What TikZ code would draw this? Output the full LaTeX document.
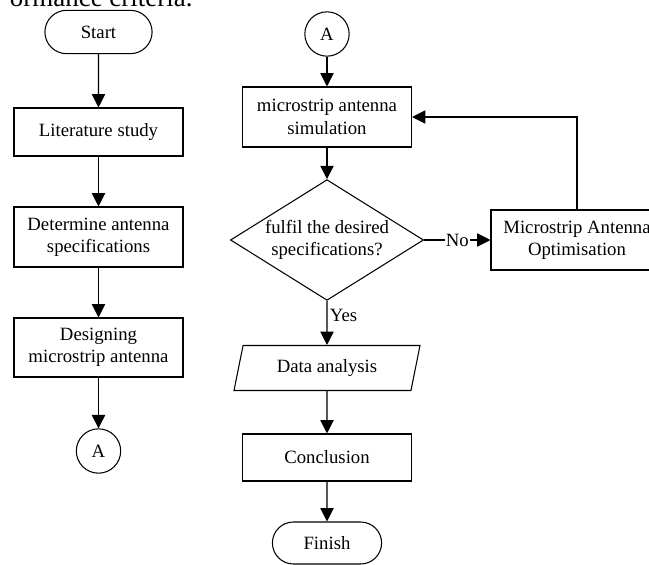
\documentclass[tikz,border=0pt]{standalone}
\usepackage{fontspec}
\setmainfont{Liberation Serif}
\usetikzlibrary{arrows.meta,shapes.geometric,shapes.misc}
\begin{document}
\begin{tikzpicture}[x=0.03cm,y=-0.03cm,line width=0.9pt,
                font=\fontsize{16}{19}\selectfont,
                process/.style={draw,align=center,minimum width=5.07cm,inner sep=2pt},
                terminal/.style={draw,rounded rectangle,minimum width=3.45cm,minimum height=1.3cm},
                connector/.style={draw,circle,minimum size=1.33cm,inner sep=0pt},
                decision/.style={draw,diamond,aspect=1.6,align=center,inner sep=1pt,minimum width=5.79cm,minimum height=3.6cm},
                io/.style={draw,trapezium,trapezium left angle=70,trapezium right angle=110,trapezium stretches body,minimum width=5.58cm,minimum height=1.35cm},
                flow/.style={-{Triangle[length=0.4cm,width=0.4cm]}}]
                \useasboundingbox (0,0) rectangle (649,565);
                \clip (0,0) rectangle (649,565);
                \node[anchor=base east,inner sep=0pt,font=\fontsize{23}{27}\selectfont] (caption) at (193,7) {ormance criteria.};
                \node[terminal] (start) at (98.5,32) {Start};
                \node[process,minimum height=1.44cm] (lit) at (98.5,132) {Literature study};
                \node[process,minimum height=1.8cm] (spec) at (98.5,237) {Determine antenna\\specifications};
                \node[process,minimum height=1.77cm] (design) at (98.5,347.5) {Designing\\microstrip antenna};
                \node[connector] (a1) at (98.5,451) {A};
                \node[connector] (a2) at (327,34) {A};
                \node[process,minimum height=1.8cm] (sim) at (327,117) {microstrip antenna\\simulation};
                \node[decision] (check) at (327,240) {fulfil the desired\\specifications?};
                \node[process,minimum width=5.16cm,minimum height=1.8cm] (opt) at (577,240) {Microstrip Antenna\\Optimisation};
                \node[io] (data) at (327,368) {Data analysis};
                \node[process,minimum height=1.41cm] (concl) at (327,457.5) {Conclusion};
                \node[terminal,minimum width=3.51cm,minimum height=1.26cm] (finish) at (327,543) {Finish};
                \draw[flow] (start) -- (lit);
                \draw[flow] (lit) -- (spec);
                \draw[flow] (spec) -- (design);
                \draw[flow] (design) -- (a1);
                \draw[flow] (a2) -- (sim);
                \draw[flow] (sim) -- (check);
                \draw[flow] (check) -- node[fill=white,inner sep=1pt] {No} (opt);
                \draw[flow] (opt.north) |- (sim.east);
                \draw[flow] (check) -- node[pos=0.32,anchor=west,inner sep=2pt] {Yes} (data);
                \draw[flow] (data) -- (concl);
                \draw[flow] (concl) -- (finish);
            \end{tikzpicture}
\end{document}
